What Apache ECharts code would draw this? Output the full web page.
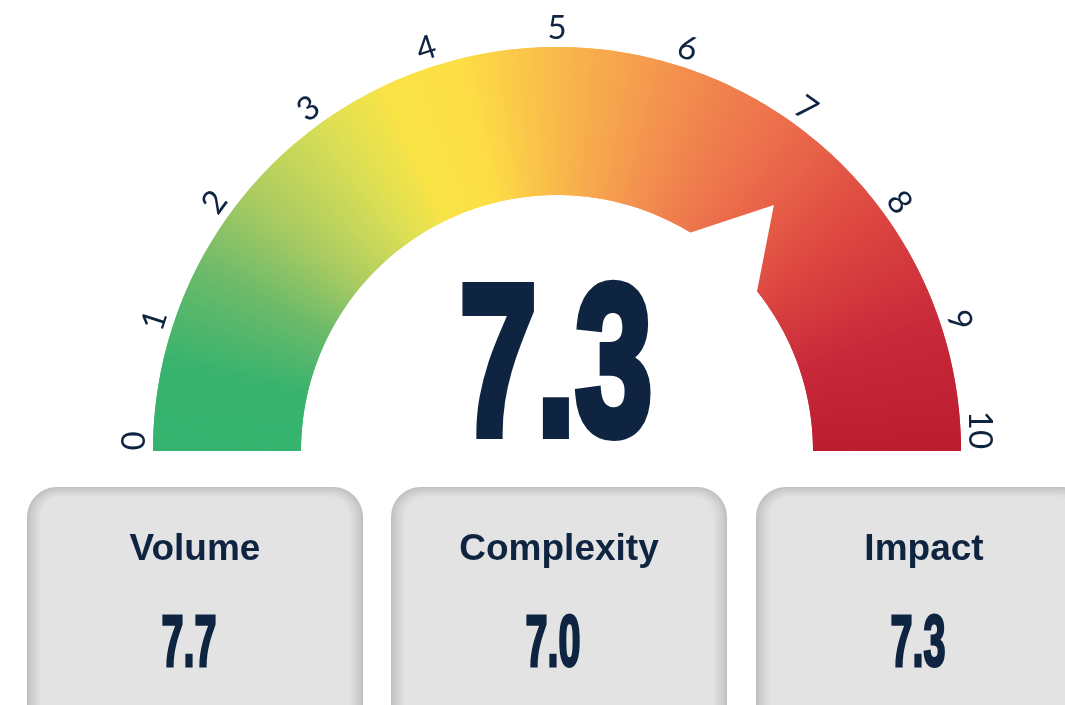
<!DOCTYPE html>
<html>
<head>
<meta charset="utf-8">
<script src="https://cdn.jsdelivr.net/npm/echarts@6/dist/echarts.min.js"></script>
<style>
  html, body { margin: 0; background: #fff; }
  #chart { width: 1065px; height: 705px; }
</style>
</head>
<body>
<div id="chart"></div>
<script>
/* Risk score gauge: 0-10 arc with a colour sweep, white notch at the score,
   big score in the middle and three sub-score cards underneath. */
const gaugeMin = 0, gaugeMax = 10, gaugeSplits = 10;
const overallScore = 7.3;
const cardTitles = ["Volume", "Complexity", "Impact"];
const cardValues = [7.7, 7.0, 7.3];

const NAVY = "#0e2440";
// colour sweep along the arc (fraction of arc -> colour)
const ARC_KEYS = [[0, "#35b36f"], [0.07, "#38b36e"], [0.15, "#6cba6a"], [0.22, "#a9cb62"],
  [0.3, "#d9de55"], [0.36, "#fae446"], [0.42, "#fdde45"], [0.5, "#f9b94b"], [0.6, "#f3904f"],
  [0.7, "#eb6b4b"], [0.8, "#dc4540"], [0.9, "#c7293a"], [1, "#bc1e2f"]];

const CX = 557, CY = 451, R = 404, BAND = 148;

const hex = (c) => [1, 3, 5].map((i) => parseInt(c.slice(i, i + 2), 16));
function colorAt(f) {
  for (let k = 1; k < ARC_KEYS.length; k++) {
    const [f1, c1] = ARC_KEYS[k];
    if (f <= f1 || k === ARC_KEYS.length - 1) {
      const [f0, c0] = ARC_KEYS[k - 1];
      const t = Math.min(1, Math.max(0, (f - f0) / (f1 - f0)));
      const a = hex(c0), b = hex(c1);
      return "rgb(" + a.map((v, i) => Math.round(v + (b[i] - v) * t)).join(",") + ")";
    }
  }
}
// small colour steps for a smooth sweep; two layers offset by half a step hide the seams
function sweepStops(n, shift) {
  const out = [];
  for (let i = 0; i <= n; i++) {
    const end = Math.min(1, (i + 1 - shift) / n);
    const start = Math.max(0, (i - shift) / n);
    out.push([end, colorAt((start + end) / 2)]);
    if (end >= 1) break;
  }
  return out;
}

const baseGauge = {
  type: "gauge", center: [CX, CY], radius: R,
  startAngle: 180, endAngle: -0.0001,
  min: gaugeMin, max: gaugeMax, splitNumber: gaugeSplits,
  progress: { show: false }, pointer: { show: false }, anchor: { show: false },
  axisTick: { show: false }, splitLine: { show: false, length: 0, distance: 0 },
  axisLabel: { show: false }, title: { show: false }, detail: { show: false },
  data: [{ value: overallScore }],
};

const labelFont = { fontFamily: "Lato, 'Open Sans', sans-serif", fontWeight: 400, fontSize: 33, color: NAVY };

const series = [
  Object.assign({}, baseGauge, { axisLine: { lineStyle: { width: BAND, color: sweepStops(240, 0) } } }),
  Object.assign({}, baseGauge, { axisLine: { lineStyle: { width: BAND, color: sweepStops(240, 0.5) } } }),
  Object.assign({}, baseGauge, {
    axisLine: { show: false, lineStyle: { width: BAND } },
    pointer: {
      show: true, icon: "path://M50 0 L100 100 L0 100 Z",
      width: 103, length: 88, offsetCenter: [0, -240],
      itemStyle: { color: "#ffffff" },
    },
    axisLabel: Object.assign({
      show: true, distance: -19, rotate: "tangential",
      formatter: (v) => (v === gaugeMin ? "{s|" + v + "}" : v === gaugeMax ? "{e|" + v + "}" : "{n|" + v + "}"),
      rich: {
        n: Object.assign({}, labelFont),
        s: Object.assign({ padding: [0, 0, 0, 20] }, labelFont),
        e: Object.assign({ padding: [0, 42, 0, 0] }, labelFont),
      },
    }, labelFont),
  }),
];

// cards
const CARD_X = [27, 391, 756], CARD_W = 336, CARD_Y = 487, CARD_H = 260;
const graphics = [];
const LAYERS = 14;
const dark = hex("#bfbfbf"), light = hex("#e3e3e3");
CARD_X.forEach((x0, ci) => {
  for (let i = 0; i < LAYERS; i++) {
    const t = Math.pow(i / (LAYERS - 1), 0.75);
    const col = "rgb(" + dark.map((v, k) => Math.round(v + (light[k] - v) * t)).join(",") + ")";
    const ix = i * 1.1, iy = i * 0.8;
    graphics.push({
      type: "rect", silent: true,
      shape: { x: x0 + ix, y: CARD_Y + iy, width: CARD_W - 2 * ix, height: CARD_H - iy, r: Math.max(8, 30 - i * 0.9) },
      style: { fill: col },
    });
  }
  const cx = x0 + CARD_W / 2;
  graphics.push({
    type: "text", silent: true, x: cx, y: 549.5,
    style: { text: cardTitles[ci], x: 0, y: 0, align: "center", verticalAlign: "middle",
      font: "bold 37px 'Liberation Sans', Arial, sans-serif", fill: NAVY },
  });
  graphics.push({
    type: "text", silent: true, x: cx - 6, y: 646.5, scaleX: 0.55,
    style: { text: cardValues[ci].toFixed(1), x: 0, y: 0, align: "center", verticalAlign: "middle",
      font: "bold 72px 'Liberation Sans', Arial, sans-serif", fill: NAVY, stroke: NAVY, lineWidth: 3 },
  });
});
// big score
graphics.push({
  type: "text", silent: true, x: 556, y: 375, scaleX: 0.65,
  style: { text: overallScore.toFixed(1), x: 0, y: 0, align: "center", verticalAlign: "middle",
    font: "bold 213px 'Liberation Sans', Arial, sans-serif", fill: NAVY, stroke: NAVY, lineWidth: 10 },
});

const chart = echarts.init(document.getElementById("chart"), null, { renderer: "canvas" });
chart.setOption({
  animation: false,
  backgroundColor: "#ffffff",
  series: series,
  graphic: { elements: graphics },
});
</script>
</body>
</html>
